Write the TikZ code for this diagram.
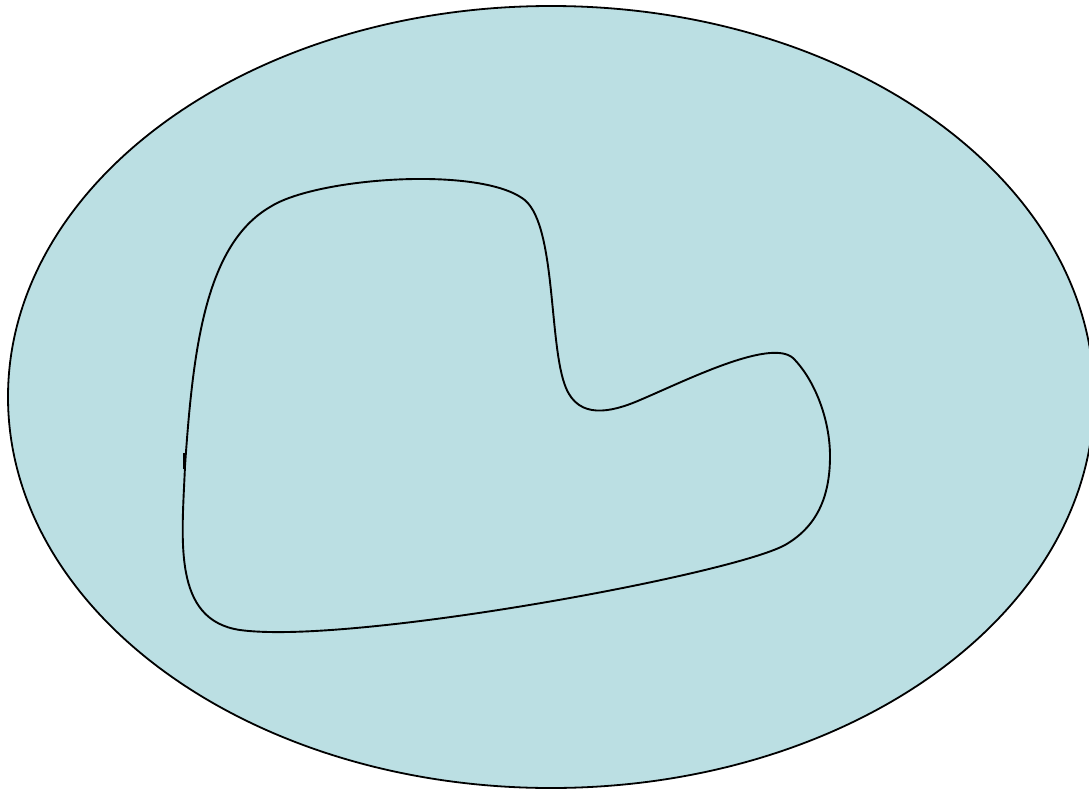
\documentclass[tikz,border=0pt]{standalone}
\definecolor{bgblue}{RGB}{187,223,227}
\begin{document}
\begin{tikzpicture}[x=1pt,y=-1pt,
  outline/.style={draw=black,line width=1.8pt},
  blob/.style={draw=black,line width=1.9pt}]
\useasboundingbox (0,0) rectangle (1089,790);
\clip (0,0) rectangle (1089,790);
\path[outline,fill=bgblue] (551,397) ellipse [x radius=543, y radius=391];
\coordinate (s) at (185,466);
\coordinate (a) at (270,207);
\coordinate (b) at (522,198);
\coordinate (c) at (566,388);
\coordinate (d) at (640,400);
\coordinate (e) at (793,358);
\coordinate (r) at (830,456);
\coordinate (f) at (785,545);
\coordinate (g) at (240,630);
\draw[blob] (s) .. controls (193,350) and (205,245) .. (a)
  .. controls (315,178) and (475,166) .. (b)
  .. controls (557,220) and (548,345) .. (c)
  .. controls (579,419) and (610,413) .. (d)
  .. controls (685,381) and (770,338) .. (e)
  .. controls (815,380) and (830,420) .. (r)
  .. controls (830,492) and (820,525) .. (f)
  .. controls (730,575) and (350,645) .. (g)
  .. controls (172,620) and (182,540) .. (s);
\coordinate (t1) at (184.5,453);
\coordinate (t2) at (184.5,469);
\draw[line width=2.2pt] (t1) -- (t2);
\end{tikzpicture}
\end{document}
